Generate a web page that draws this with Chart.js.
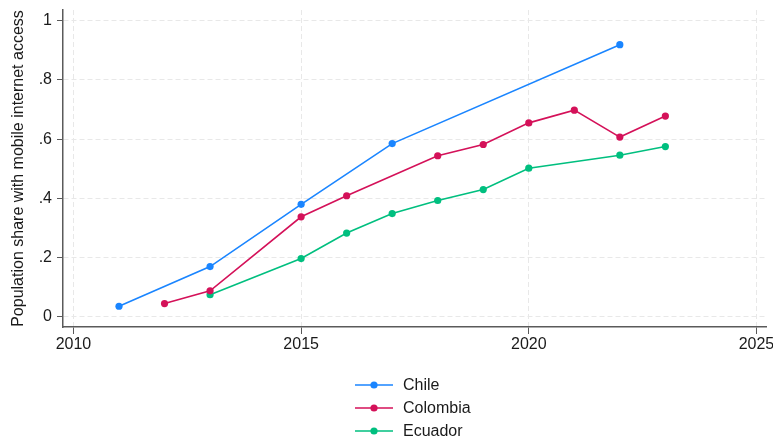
<!DOCTYPE html>
<html>
<head>
<meta charset="utf-8">
<title>Mobile internet access</title>
<script src="https://cdn.jsdelivr.net/npm/chart.js@4/dist/chart.umd.min.js"></script>
<style>
  html, body { margin: 0; padding: 0; background: #fff; }
  #wrap { width: 773px; height: 442px; }
</style>
</head>
<body>
<div id="wrap"><canvas id="accessChart" width="773" height="442"></canvas></div>
<script>
const chileYears = [2011, 2013, 2015, 2017, 2022];
const chileShare = [0.036, 0.170, 0.380, 0.585, 0.919];

const colombiaYears = [2012, 2013, 2015, 2016, 2018, 2019, 2020, 2021, 2022, 2023];
const colombiaShare = [0.045, 0.088, 0.338, 0.409, 0.544, 0.582, 0.655, 0.698, 0.607, 0.678];

const ecuadorYears = [2013, 2015, 2016, 2017, 2018, 2019, 2020, 2022, 2023];
const ecuadorShare = [0.075, 0.197, 0.283, 0.349, 0.393, 0.430, 0.502, 0.546, 0.575];

const xTicks = [2010, 2015, 2020, 2025];
const yTicks = [0, 0.2, 0.4, 0.6, 0.8, 1];

const FONT = '"Liberation Sans", Arial, sans-serif';
const gridColor = '#e8e8e8';
const axisColor = '#5a5a5a';

function toPoints(years, values) {
  return years.map((year, i) => ({ x: year, y: values[i] }));
}

function series(label, color, years, values) {
  return {
    label,
    data: toPoints(years, values),
    borderColor: color,
    backgroundColor: color,
    borderWidth: 1.6,
    pointRadius: 3.6,
    pointBorderWidth: 0,
    pointBackgroundColor: color,
    tension: 0
  };
}

// vertical legend under the plot: short line with a dot, then the name
const stackedLegend = {
  id: 'stackedLegend',
  afterDraw(chart) {
    const ctx = chart.ctx;
    ctx.save();
    chart.data.datasets.forEach((ds, i) => {
      const y = 385 + i * 23;
      ctx.strokeStyle = ds.borderColor;
      ctx.lineWidth = 1.6;
      ctx.beginPath();
      ctx.moveTo(355, y);
      ctx.lineTo(393, y);
      ctx.stroke();
      ctx.fillStyle = ds.borderColor;
      ctx.beginPath();
      ctx.arc(374, y, 3.6, 0, Math.PI * 2);
      ctx.fill();
      ctx.fillStyle = '#1a1a1a';
      ctx.font = '16px ' + FONT;
      ctx.textAlign = 'left';
      ctx.textBaseline = 'middle';
      ctx.fillText(ds.label, 403, y + 1);
    });
    ctx.restore();
  }
};

const chart = new Chart(document.getElementById('accessChart'), {
  type: 'line',
  data: {
    datasets: [
      series('Chile', '#1a85ff', chileYears, chileShare),
      series('Colombia', '#d41159', colombiaYears, colombiaShare),
      series('Ecuador', '#00bf7f', ecuadorYears, ecuadorShare)
    ]
  },
  options: {
    responsive: false,
    animation: false,
    layout: { padding: { top: 10, right: 7, bottom: 0, left: 0 } },
    plugins: {
      legend: { display: false },
      tooltip: { enabled: false }
    },
    scales: {
      x: {
        type: 'linear',
        min: 2009.77,
        max: 2025.21,
        afterBuildTicks: (scale) => { scale.ticks = xTicks.map((v) => ({ value: v })); },
        afterFit: (scale) => {
          scale.height = 115;
          scale.paddingLeft = 0;
          scale.paddingRight = 0;
        },
        ticks: {
          color: '#1a1a1a',
          font: { family: FONT, size: 16 },
          padding: 1,
          maxRotation: 0,
          callback: (value) => String(value)
        },
        grid: {
          color: gridColor,
          lineWidth: 1,
          tickColor: axisColor,
          tickLength: 7,
          tickBorderDash: []
        },
        border: { color: axisColor, width: 1.5, dash: [5, 3] }
      },
      y: {
        type: 'linear',
        min: -0.034,
        max: 1.036,
        afterBuildTicks: (scale) => { scale.ticks = yTicks.map((v) => ({ value: v })); },
        afterFit: (scale) => {
          scale.width = 63;
          scale.paddingTop = 0;
          scale.paddingBottom = 0;
        },
        ticks: {
          color: '#1a1a1a',
          font: { family: FONT, size: 16 },
          padding: 5,
          callback: (value) => {
            if (value === 0) return '0';
            if (value === 1) return '1';
            return String(Math.round(value * 10) / 10).replace(/^0/, '');
          }
        },
        title: {
          display: true,
          text: 'Population share with mobile internet access',
          color: '#1a1a1a',
          font: { family: FONT, size: 16 },
          padding: { top: 9, bottom: 0 }
        },
        grid: {
          color: gridColor,
          lineWidth: 1,
          tickColor: axisColor,
          tickLength: 6,
          tickBorderDash: []
        },
        border: { color: axisColor, width: 1.5, dash: [5, 3] }
      }
    }
  },
  plugins: [stackedLegend]
});
</script>
</body>
</html>
